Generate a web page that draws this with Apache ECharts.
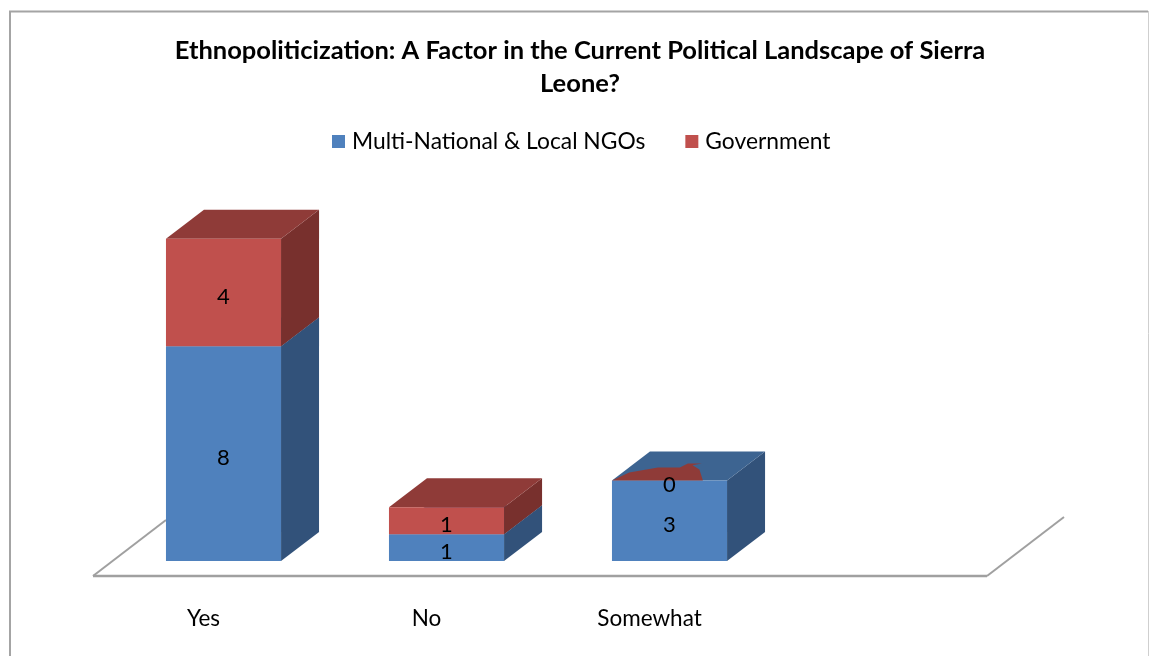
<!DOCTYPE html>
<html>
<head>
<meta charset="utf-8">
<style>html,body{margin:0;padding:0;background:#fff}#c{width:1149px;height:656px}</style>
<script src="https://cdn.jsdelivr.net/npm/echarts@6/dist/echarts.min.js"></script>
</head>
<body>
<div id="c"></div>
<script>
const titleText = 'Ethnopoliticization: A Factor in the Current Political Landscape of Sierra\nLeone?';
const categories = ['Yes', 'No', 'Somewhat', ''];
const seriesNames = ['Multi-National & Local NGOs', 'Government'];
const ngoValues = [8, 1, 3];
const govValues = [4, 1, 0];

const FONT = 'Lato';
const DEPTH_X = 38, DEPTH_Y = 29, BAR_RATIO = 0.516;
const BLUE = { front: '#4f81bd', top: '#3d6491', side: '#32527a' };
const RED = { front: '#c0504d', top: '#8f3b38', side: '#78302d' };
// outline of the flattened top of a zero-height segment, as fractions of bar width / depth
const ZERO_BLOB = [[0,0],[0.15,-0.27],[0.4,-0.45],[0.59,-0.45],[0.66,-0.58],[0.78,-0.58],[0.7,-0.52],[0.76,-0.38],[0.79,0]];

function boxRenderer(values, bases, pal) {
  return function (params, api) {
    const i = api.value(0), v = values[i], base = bases[i];
    const bw = api.size([1, 0])[0] * BAR_RATIO;
    const c0 = api.coord([i, base]), c1 = api.coord([i, base + v]);
    const l = c0[0] - bw / 2, r = c0[0] + bw / 2, b = c0[1], t = c1[1];
    if (v === 0) {
      return { type: 'polygon', shape: { points: ZERO_BLOB.map(p => [l + p[0] * bw, t + p[1] * DEPTH_Y]) },
        style: { fill: pal.top } };
    }
    return { type: 'group', children: [
      { type: 'polygon', shape: { points: [[r, b], [r + DEPTH_X, b - DEPTH_Y], [r + DEPTH_X, t - DEPTH_Y], [r, t]] }, style: { fill: pal.side } },
      { type: 'polygon', shape: { points: [[l, t], [l + DEPTH_X, t - DEPTH_Y], [r + DEPTH_X, t - DEPTH_Y], [r, t]] }, style: { fill: pal.top } },
      { type: 'rect', shape: { x: l, y: t, width: bw, height: b - t }, style: { fill: pal.front } }
    ] };
  };
}
function labelRenderer(values, bases) {
  return function (params, api) {
    const i = api.value(0), v = values[i], base = bases[i];
    const p = api.coord([i, base + v / 2]);
    return { type: 'text', style: { text: String(v), x: p[0], y: p[1] + 4, fill: '#000', align: 'center', verticalAlign: 'middle', font: '22px ' + FONT } };
  };
}
function floorRenderer(params) {
  const g = params.coordSys, y = g.y + g.height + 15;
  const x0 = g.x - 19, x1 = g.x + g.width - 17;
  const ls = { stroke: '#a0a0a0', lineWidth: 2, fill: null };
  return { type: 'group', children: [
    { type: 'polyline', shape: { points: [[x0, y], [x0 + 73, y - 56]] }, style: ls },
    { type: 'polyline', shape: { points: [[x1, y], [x1 + 77, y - 59]] }, style: ls },
    { type: 'line', shape: { x1: x0, y1: y, x2: x1, y2: y }, style: { stroke: '#a0a0a0', lineWidth: 2.5 } }
  ] };
}
const zeros = ngoValues.map(() => 0);
const idx = ngoValues.map((_, i) => [i]);

const chart = echarts.init(document.getElementById('c'));
chart.setOption({
  animation: false,
  backgroundColor: '#fff',
  title: { text: titleText, left: 575, top: 29, textAlign: 'center',
    textStyle: { fontFamily: FONT, fontWeight: 'bold', fontSize: 25.5, lineHeight: 33, color: '#000' } },
  legend: { data: seriesNames, top: 125, left: 327, icon: 'rect', itemWidth: 13, itemHeight: 13, itemGap: 40,
    textStyle: { fontFamily: FONT, fontSize: 22.8, color: '#000', padding: [0, 0, 0, 2] }, selectedMode: false },
  grid: { left: 112, right: 145, top: 185, bottom: 95 },
  xAxis: { type: 'category', data: categories, axisLine: { show: false }, axisTick: { show: false },
    axisLabel: { interval: 0, margin: 46, fontFamily: FONT, fontSize: 22.5, color: '#000', padding: [0, 40, 0, 0] } },
  yAxis: { type: 'value', min: 0, max: 14, show: false, splitLine: { show: false } },
  series: [
    { type: 'custom', silent: true, z: 1, data: [[0]], renderItem: floorRenderer },
    { type: 'custom', name: seriesNames[0], silent: true, z: 2, itemStyle: { color: BLUE.front }, data: idx, renderItem: boxRenderer(ngoValues, zeros, BLUE) },
    { type: 'custom', name: seriesNames[1], silent: true, z: 3, itemStyle: { color: RED.front }, data: idx, renderItem: boxRenderer(govValues, ngoValues, RED) },
    { type: 'custom', silent: true, z: 4, data: idx, renderItem: labelRenderer(ngoValues, zeros) },
    { type: 'custom', silent: true, z: 4, data: idx, renderItem: labelRenderer(govValues, ngoValues) }
  ],
  graphic: [
    { type: 'polyline', z: 0, shape: { points: [[10, 656], [10, 11.5], [1148, 11.5]] }, style: { stroke: '#a4a4a4', lineWidth: 2, fill: null } },
    { type: 'line', z: 0, shape: { x1: 1148.5, y1: 11, x2: 1148.5, y2: 656 }, style: { stroke: '#cfcfcf', lineWidth: 1 } }
  ]
});
</script>
</body>
</html>
